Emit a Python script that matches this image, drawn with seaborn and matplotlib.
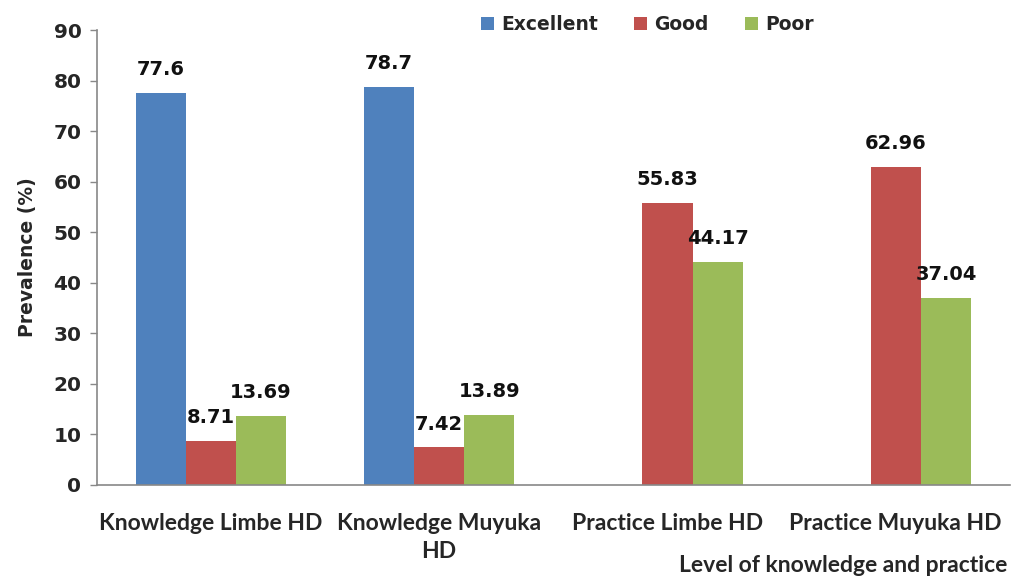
import matplotlib
matplotlib.use("Agg")
import matplotlib.pyplot as plt
import seaborn as sns
import pandas as pd
import numpy as np

categories = ["Knowledge Limbe HD", "Knowledge Muyuka\nHD", "Practice Limbe HD", "Practice Muyuka HD"]
levels = ["Excellent", "Good", "Poor"]
excellent = [77.6, 78.7, np.nan, np.nan]
good = [8.71, 7.42, 55.83, 62.96]
poor = [13.69, 13.89, 44.17, 37.04]
label_text = {"Excellent": ["77.6", "78.7", "", ""],
              "Good": ["8.71", "7.42", "55.83", "62.96"],
              "Poor": ["13.69", "13.89", "44.17", "37.04"]}
colors = ["#4F81BD", "#C0504D", "#9BBB59"]

rows = []
for lev, vals in zip(levels, [excellent, good, poor]):
    for c, v in zip(categories, vals):
        rows.append({"cat": c, "level": lev, "value": v})
df = pd.DataFrame(rows)

sns.set_style("white")
fig = plt.figure(figsize=(10.18, 5.78), dpi=100)
ax = fig.add_axes([0.095, 0.161, 0.897, 0.787])
sns.barplot(data=df, x="cat", y="value", hue="level", order=categories,
            hue_order=levels, palette=colors, width=0.66, saturation=1,
            ax=ax, errorbar=None, linewidth=0)

for cont, lev in zip(ax.containers, levels):
    labs = label_text[lev]
    for bar, lab in zip(cont, labs):
        if bar is None or not lab:
            continue
        x = bar.get_x() + bar.get_width() / 2
        h = bar.get_height()
        ax.annotate(lab, (x, h), xytext=(0, 10), textcoords="offset points",
                    ha="center", va="bottom", fontsize=14, fontweight="bold",
                    color="#111111")

ax.set_ylim(0, 90)
ax.set_yticks(range(0, 91, 10))
ax.set_xlim(-0.5, 3.5)
ax.tick_params(axis="y", labelsize=14.5, length=5, width=1, color="#888888", direction="out", left=True, pad=6)
for t in ax.get_yticklabels():
    t.set_fontweight("bold")
ax.tick_params(axis="x", length=0, pad=20)
for t in ax.get_xticklabels():
    t.set_fontfamily("Lato")
    t.set_fontweight("bold")
    t.set_fontsize(16.5)
    t.set_linespacing(1.45)
ax.set_ylabel("Prevalence (%)", fontsize=13.5, fontweight="bold", labelpad=12)
ax.set_xlabel("")
fig.text(0.99, 0.004, "Level of knowledge and practice", ha="right", va="bottom",
         fontsize=16.5, fontweight="bold", family="Lato")

for s in ["top", "right"]:
    ax.spines[s].set_visible(False)
for s in ["left", "bottom"]:
    ax.spines[s].set_color("#888888")
    ax.spines[s].set_linewidth(1.2)

leg = ax.legend(loc="lower center", bbox_to_anchor=(0.603, 0.975), ncol=3, frameon=False,
                prop={"weight": "bold", "size": 13.5}, handlelength=0.7, handleheight=0.7,
                handletextpad=0.4, columnspacing=1.9, borderaxespad=0)
for h in leg.legend_handles:
    h.set_linewidth(0)

fig.savefig("out.png", dpi=100, facecolor="white")
